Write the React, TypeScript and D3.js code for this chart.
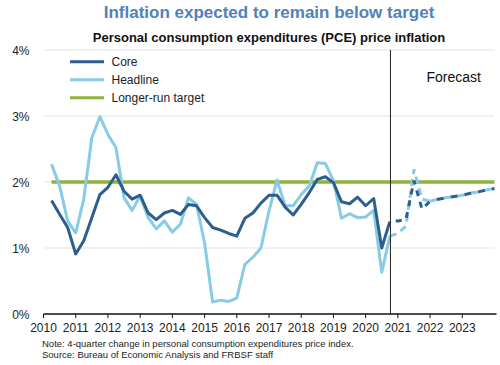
import React from 'react';
import * as d3 from 'd3';

// Quarterly observations, plotted at year + quarter/4 (first point 2010 Q1 -> 2010.25)
const startYear = 2010.25;
const coreActual = [
  1.72, 1.51, 1.31, 0.91, 1.11, 1.46, 1.81, 1.92, 2.11, 1.86, 1.74, 1.80,
  1.53, 1.43, 1.53, 1.57, 1.51, 1.66, 1.64, 1.46, 1.31, 1.27, 1.22, 1.18,
  1.45, 1.53, 1.68, 1.80, 1.80, 1.62, 1.50, 1.66, 1.84, 2.04, 2.08, 1.99,
  1.70, 1.67, 1.77, 1.64, 1.75, 1.00, 1.40,
];
const headlineActual = [
  2.27, 1.94, 1.41, 1.23, 1.74, 2.67, 2.99, 2.72, 2.52, 1.76, 1.57, 1.79,
  1.46, 1.29, 1.41, 1.24, 1.36, 1.76, 1.66, 1.08, 0.18, 0.21, 0.19, 0.24,
  0.75, 0.86, 1.00, 1.56, 2.03, 1.64, 1.64, 1.81, 1.94, 2.29, 2.28, 2.02,
  1.45, 1.52, 1.46, 1.47, 1.57, 0.63, 1.18,
];
// Forecast paths start at the last actual quarter (2020 Q3 -> 2020.75)
const forecastStart = 2020.75;
const coreForecast = [1.40, 1.41, 1.43, 2.02, 1.59, 1.71, 1.74, 1.76, 1.78, 1.80, 1.83, 1.85, 1.88, 1.90];
const headlineForecast = [1.18, 1.22, 1.33, 2.19, 1.74, 1.71, 1.74, 1.76, 1.78, 1.80, 1.83, 1.85, 1.88, 1.90];
const convergeIdx = 5; // from 2022 on the two forecasts coincide
const target = 2;
const yearTicks = d3.range(2010, 2024);
const pctTicks = [0, 1, 2, 3, 4];

const COLORS = {
  core: '#2d5e8e',
  headline: '#87cbe6',
  target: '#8db33a',
  title: '#4f81bd',
};

const FONT = '"Liberation Sans", Arial, sans-serif';

export default function App() {
  const width = 500;
  const height = 365;
  const x = d3.scaleLinear().domain([2010, 2024]).range([43.5, 494.5]);
  const y = d3.scaleLinear().domain([0, 4]).range([314, 50]);

  const toPts = (vals: number[], start: number) => vals.map((v, i) => [start + i * 0.25, v] as [number, number]);
  const line = d3.line<[number, number]>().x(d => x(d[0])).y(d => y(d[1]));

  const coreF = toPts(coreForecast, forecastStart);
  const headF = toPts(headlineForecast, forecastStart);

  const legend = [
    { label: 'Core', color: COLORS.core },
    { label: 'Headline', color: COLORS.headline },
    { label: 'Longer-run target', color: COLORS.target },
  ];

  return (
    <svg width={width} height={height} style={{ position: 'absolute', left: 0, top: 0, fontFamily: FONT }}>
      <rect width={width} height={height} fill="#fff" />
      <text x={269} y={17.5} textAnchor="middle" fontSize={17} fontWeight="bold" fill={COLORS.title}>
        Inflation expected to remain below target
      </text>
      <text x={269} y={42} textAnchor="middle" fontSize={13} fontWeight="bold" fill="#111">
        Personal consumption expenditures (PCE) price inflation
      </text>

      {/* grid + y labels */}
      {pctTicks.map(t => (
        <g key={t}>
          {t > 0 && <line x1={x(2010)} x2={x(2024)} y1={y(t)} y2={y(t)} stroke="#e3e3e3" strokeWidth={1} />}
          <text x={29.5} y={y(t) + 4.5} textAnchor="end" fontSize={12} fill="#222">{t}%</text>
        </g>
      ))}

      {/* target */}
      <line x1={x(startYear)} x2={x(2024)} y1={y(target)} y2={y(target)} stroke={COLORS.target} strokeWidth={3.5} />

      {/* actuals */}
      <path d={line(toPts(headlineActual, startYear)) || ''} fill="none" stroke={COLORS.headline} strokeWidth={3} strokeLinejoin="round" />
      <path d={line(toPts(coreActual, startYear)) || ''} fill="none" stroke={COLORS.core} strokeWidth={3} strokeLinejoin="round" />

      {/* forecasts: diverging part */}
      <path d={line(headF.slice(0, convergeIdx + 1)) || ''} fill="none" stroke={COLORS.headline} strokeWidth={3} strokeDasharray="7,5" />
      <path d={line(coreF.slice(0, convergeIdx + 1)) || ''} fill="none" stroke={COLORS.core} strokeWidth={3} strokeDasharray="6,6" strokeDashoffset={-6} />
      {/* forecasts: shared part, dashes interleaved */}
      <path d={line(headF.slice(convergeIdx)) || ''} fill="none" stroke={COLORS.headline} strokeWidth={3} strokeDasharray="7,7" />
      <path d={line(coreF.slice(convergeIdx)) || ''} fill="none" stroke={COLORS.core} strokeWidth={3} strokeDasharray="7,7" strokeDashoffset={7} />

      {/* forecast divider */}
      <line x1={x(2020.77)} x2={x(2020.77)} y1={y(4)} y2={y(0)} stroke="#222" strokeWidth={1} />
      <text x={426.5} y={81.5} fontSize={14} fill="#111">Forecast</text>

      {/* x axis */}
      <line x1={x(2010)} x2={x(2024) + 2} y1={y(0)} y2={y(0)} stroke="#111" strokeWidth={1.5} />
      {yearTicks.map(yr => (
        <g key={yr}>
          <line x1={x(yr)} x2={x(yr)} y1={y(0)} y2={y(0) + 4} stroke="#111" strokeWidth={1} />
          <text x={x(yr)} y={331.5} textAnchor="middle" fontSize={12} fill="#222">{yr}</text>
        </g>
      ))}

      {/* legend */}
      {legend.map((d, i) => (
        <g key={d.label} transform={`translate(70,${61.7 + i * 18})`}>
          <line x1={0} x2={34} y1={0} y2={0} stroke={d.color} strokeWidth={3} />
          <text x={41.5} y={4.3} fontSize={12} fill="#222">{d.label}</text>
        </g>
      ))}

      <text x={42} y={346.5} fontSize={9.5} fill="#222">
        Note: 4-quarter change in personal consumption expenditures price index.
      </text>
      <text x={42} y={357.5} fontSize={9.5} fill="#222">
        Source: Bureau of Economic Analysis and FRBSF staff
      </text>
    </svg>
  );
}
